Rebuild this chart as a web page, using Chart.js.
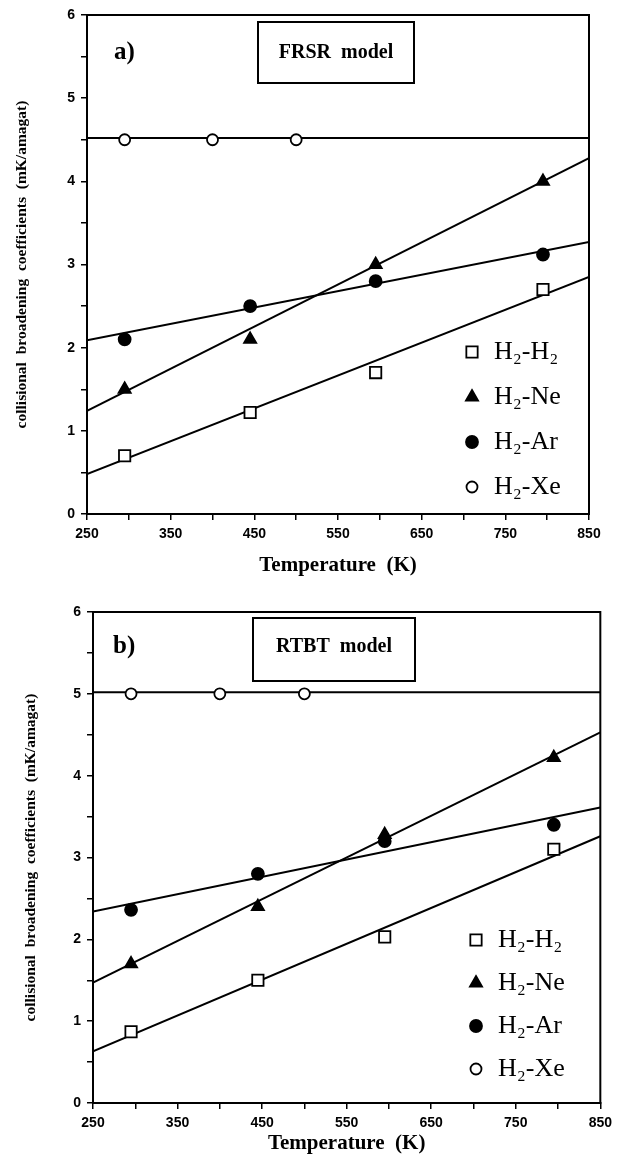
<!DOCTYPE html>
<html>
<head>
<meta charset="utf-8">
<script src="https://cdn.jsdelivr.net/npm/chart.js@4.4.1/dist/chart.umd.min.js"></script>
<style>
  body { margin: 0; background: #fff; }
  .panel { position: relative; width: 618px; }
</style>
</head>
<body>
<div class="panel" style="height:578px"><canvas id="chartA"></canvas></div>
<div class="panel" style="height:579px"><canvas id="chartB"></canvas></div>
<script>
// temperatures (K)
const temps = [295, 445, 595, 795];
const xeTemps = [295, 400, 500];
const fitTemps = [250, 850];
const seriesNames = ['H\u2082-H\u2082', 'H\u2082-Ne', 'H\u2082-Ar', 'H\u2082-Xe'];

// panel a) FRSR model
const aH2 = [0.70, 1.22, 1.70, 2.70];
const aNe = [1.50, 2.10, 3.00, 4.00];
const aAr = [2.10, 2.50, 2.80, 3.12];
const aXe = [4.50, 4.50, 4.50];
const aFitH2 = [0.48, 2.85];
const aFitNe = [1.24, 4.28];
const aFitAr = [2.09, 3.27];
const aFitXe = [4.52, 4.52];

// panel b) RTBT model
const bH2 = [0.87, 1.50, 2.03, 3.10];
const bNe = [1.70, 2.40, 3.28, 4.22];
const bAr = [2.36, 2.80, 3.20, 3.40];
const bXe = [5.00, 5.00, 5.00];
const bFitH2 = [0.63, 3.26];
const bFitNe = [1.47, 4.53];
const bFitAr = [2.34, 3.61];
const bFitXe = [5.02, 5.02];

const xTicks = [250, 350, 450, 550, 650, 750, 850];
const yTicks = [0, 1, 2, 3, 4, 5, 6];

const pts = (xs, ys) => xs.map((x, i) => ({ x: x, y: ys[i] }));

const markers = [
  { pointStyle: 'rect', radius: 8, fill: '#fff' },
  { pointStyle: 'triangle', radius: 7, fill: '#000' },
  { pointStyle: 'circle', radius: 6, fill: '#000' },
  { pointStyle: 'circle', radius: 5.5, fill: '#fff' }
];

function fitSet(ys) {
  return {
    data: pts(fitTemps, ys), showLine: true, pointRadius: 0,
    borderColor: '#000', borderWidth: 2, order: 2
  };
}
function markSet(xs, ys, k) {
  const m = markers[k];
  return {
    label: seriesNames[k], data: pts(xs, ys),
    pointStyle: m.pointStyle, pointRadius: m.radius,
    backgroundColor: m.fill, borderColor: '#000', borderWidth: 1.8, order: 1
  };
}

// frame, title box, panel letter and legend
const decor = {
  id: 'decor',
  afterDraw(chart, args, o) {
    const { ctx, chartArea: ca } = chart;
    ctx.save();
    ctx.strokeStyle = '#000';
    ctx.lineWidth = 2;
    ctx.strokeRect(ca.left, ca.top, ca.right - ca.left, ca.bottom - ca.top);
    // title box
    ctx.strokeRect(o.box[0], o.box[1], o.box[2] - o.box[0], o.box[3] - o.box[1]);
    ctx.fillStyle = '#000';
    ctx.textBaseline = 'middle';
    ctx.textAlign = 'center';
    ctx.font = 'bold 20px "Liberation Serif"';
    ctx.fillText(o.title, (o.box[0] + o.box[2]) / 2, o.textY);
    ctx.textAlign = 'left';
    ctx.font = 'bold 25px "Liberation Serif"';
    ctx.fillText(o.letter, o.letterX, o.textY);
    // legend
    ctx.font = '26px "Liberation Serif"';
    seriesNames.forEach((name, k) => {
      const m = markers[k];
      const y = o.legY + k * o.legStep;
      ctx.fillStyle = m.fill;
      ctx.strokeStyle = '#000';
      ctx.lineWidth = 1.8;
      Chart.helpers.drawPoint(ctx, { pointStyle: m.pointStyle, radius: m.radius, borderWidth: 1.8 }, o.legX, y);
      ctx.fillStyle = '#000';
      ctx.fillText(name, o.legX + 22, y);
    });
    ctx.restore();
  }
};

function makeChart(id, sets, L) {
  new Chart(document.getElementById(id), {
    type: 'scatter',
    data: { datasets: sets },
    options: {
      responsive: true,
      maintainAspectRatio: false,
      animation: false,
      layout: { padding: { top: L.top, right: L.right, left: 0, bottom: 0 } },
      plugins: { legend: { display: false }, tooltip: { enabled: false }, decor: L.decor },
      scales: {
        x: {
          type: 'linear', min: 250, max: 850,
          afterBuildTicks: s => { s.ticks = []; for (let v = 250; v <= 850; v += 50) s.ticks.push({ value: v }); },
          afterFit: s => { s.height = L.xh; },
          ticks: {
            color: '#000', padding: 6, maxRotation: 0,
            font: { family: '"Liberation Sans"', weight: 'bold', size: 14 },
            callback: v => xTicks.includes(v) ? String(v) : ''
          },
          grid: { drawOnChartArea: false, color: '#000', tickLength: 6, lineWidth: 1.5 },
          border: { color: '#000', width: 2 },
          title: {
            display: true, text: 'Temperature  (K)', color: '#000',
            font: { family: '"Liberation Serif"', weight: 'bold', size: 21 },
            padding: { top: 0, bottom: L.xtPad }
          }
        },
        y: {
          min: 0, max: 6,
          afterBuildTicks: s => { s.ticks = []; for (let v = 0; v <= 6; v += 0.5) s.ticks.push({ value: v }); },
          afterFit: s => { s.width = L.yw; },
          ticks: {
            color: '#000', padding: 6,
            font: { family: '"Liberation Sans"', weight: 'bold', size: 14 },
            callback: v => yTicks.includes(v) ? String(v) : ''
          },
          grid: { drawOnChartArea: false, color: '#000', tickLength: 6, lineWidth: 1.5 },
          border: { color: '#000', width: 2 },
          title: {
            display: true, text: 'collisional  broadening  coefficients  (mK/amagat)', color: '#000',
            font: { family: '"Liberation Serif"', weight: 'bold', size: 15.5 },
            padding: { top: L.ytPad, bottom: 0 }
          }
        }
      }
    },
    plugins: [decor]
  });
}

makeChart('chartA', [
  fitSet(aFitH2), fitSet(aFitNe), fitSet(aFitAr), fitSet(aFitXe),
  markSet(temps, aH2, 0), markSet(temps, aNe, 1), markSet(temps, aAr, 2), markSet(xeTemps, aXe, 3)
], {
  top: 15, right: 29, yw: 87, xh: 64, xtPad: 0, ytPad: 13,
  decor: { box: [258, 22, 414, 83], title: 'FRSR  model', letter: 'a)', letterX: 114, textY: 53,
           legX: 472, legY: 352, legStep: 45 }
});

makeChart('chartB', [
  fitSet(bFitH2), fitSet(bFitNe), fitSet(bFitAr), fitSet(bFitXe),
  markSet(temps, bH2, 0), markSet(temps, bNe, 1), markSet(temps, bAr, 2), markSet(xeTemps, bXe, 3)
], {
  top: 34, right: 17, yw: 93, xh: 54, xtPad: 1, ytPad: 22,
  decor: { box: [253, 40, 415, 103], title: 'RTBT  model', letter: 'b)', letterX: 113, textY: 69,
           legX: 476, legY: 362, legStep: 43 }
});
</script>
</body>
</html>
